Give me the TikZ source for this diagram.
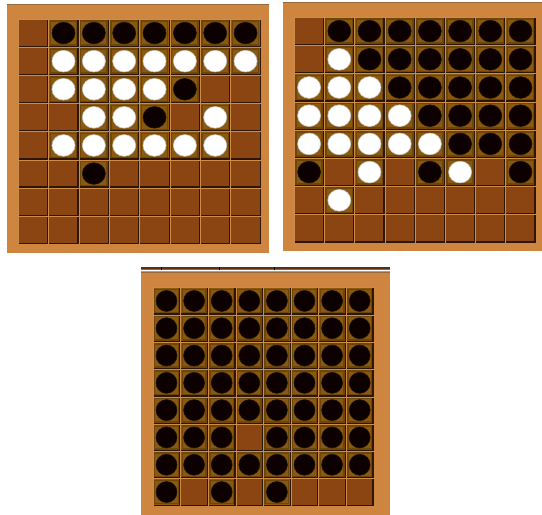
\documentclass[tikz,border=0pt]{standalone}
\definecolor{frame}{RGB}{205,133,63}
\definecolor{frametop}{RGB}{150,105,60}
\definecolor{cellempty}{RGB}{139,69,19}
\definecolor{cellocc}{RGB}{138,88,14}
\definecolor{celloccedge}{RGB}{110,70,10}
\definecolor{celllight}{RGB}{205,140,75}
\definecolor{celldark}{RGB}{45,22,5}
\definecolor{whiteedge}{RGB}{200,200,200}
\definecolor{stripdark}{RGB}{95,45,15}
\definecolor{striplight}{RGB}{170,95,40}
\definecolor{stripgray}{RGB}{160,160,160}
\tikzset{
  blackstone/.style={fill=black!95!red, draw=black!85!brown, line width=0.6pt},
  whitestone/.style={fill=white, draw=whiteedge, line width=0.6pt},
}
\newcommand\othboard[9]{%
  \fill[frame] (#1,#2) rectangle (#3,#4);
  \draw[frametop, line width=1pt] (#1,#2+0.5) -- (#3,#2+0.5);
  \foreach \rowl [count=\i from 0] in {#9} {
    \foreach \v [count=\j from 0] in \rowl {
      \pgfmathsetmacro\xa{#5+\j*#7}
      \pgfmathsetmacro\ya{#6+\i*#8}
      \pgfmathsetmacro\xb{\xa+#7}
      \pgfmathsetmacro\yb{\ya+#8}
      \pgfmathsetmacro\cx{\xa+0.5*#7}
      \pgfmathsetmacro\cy{\ya+0.5*#8}
      \ifnum\v=0
        \fill[cellempty] (\xa,\ya) rectangle (\xb,\yb);
      \else
        \fill[cellocc] (\xa,\ya) rectangle (\xb,\yb);
        \draw[celloccedge, line width=1.5pt] ({\xa+2},{\ya+2}) rectangle ({\xb-2},{\yb-2});
      \fi
      \draw[celllight, line width=1pt] ({\xa+0.5},\yb) -- ({\xa+0.5},{\ya+0.5}) -- (\xb,{\ya+0.5});
      \draw[celldark, line width=1.2pt] ({\xa+1},{\yb-0.6}) -- ({\xb-0.6},{\yb-0.6}) -- ({\xb-0.6},{\ya+1});
      \ifnum\v=1
        \path[blackstone] (\cx,\cy) ellipse [x radius={0.38*#7}, y radius={0.385*#8}];
      \fi
      \ifnum\v=2
        \path[whitestone] (\cx,\cy) ellipse [x radius={0.38*#7}, y radius={0.385*#8}];
      \fi
    }
  }
}
\begin{document}
\begin{tikzpicture}[x=1pt,y=-1pt]
\useasboundingbox (0,0) rectangle (542,515);
\fill[white] (0,0) rectangle (542,515);
% board 1
\othboard{7}{4}{268.5}{252.5}{18}{19}{30.34}{28.1}{
  {0,1,1,1,1,1,1,1},
  {0,2,2,2,2,2,2,2},
  {0,2,2,2,2,1,0,0},
  {0,0,2,2,1,0,2,0},
  {0,2,2,2,2,2,2,0},
  {0,0,1,0,0,0,0,0},
  {0,0,0,0,0,0,0,0},
  {0,0,0,0,0,0,0,0}}
% board 2
\othboard{282.5}{2}{542}{251}{294}{17}{30.2}{28.2}{
  {0,1,1,1,1,1,1,1},
  {0,2,1,1,1,1,1,1},
  {2,2,2,1,1,1,1,1},
  {2,2,2,2,1,1,1,1},
  {2,2,2,2,2,1,1,1},
  {1,0,2,0,1,2,0,1},
  {0,2,0,0,0,0,0,0},
  {0,0,0,0,0,0,0,0}}
% board 3 top strip
\fill[stripdark] (141,267.2) rectangle (390,269.6);
\draw[striplight, line width=0.6pt] (141,269.6) -- (390,269.6);
\fill[stripgray] (141,270.8) rectangle (390,272.2);
\foreach \sx in {161.7,219.3,274} {
  \draw[black, line width=0.8pt] (\sx,267.2) -- (\sx,269.6);
}
% board 3
\othboard{141}{272.2}{389.5}{515}{152.7}{287.3}{27.6}{27.3}{
  {1,1,1,1,1,1,1,1},
  {1,1,1,1,1,1,1,1},
  {1,1,1,1,1,1,1,1},
  {1,1,1,1,1,1,1,1},
  {1,1,1,1,1,1,1,1},
  {1,1,1,0,1,1,1,1},
  {1,1,1,1,1,1,1,1},
  {1,0,1,0,1,0,0,0}}
\end{tikzpicture}
\end{document}
